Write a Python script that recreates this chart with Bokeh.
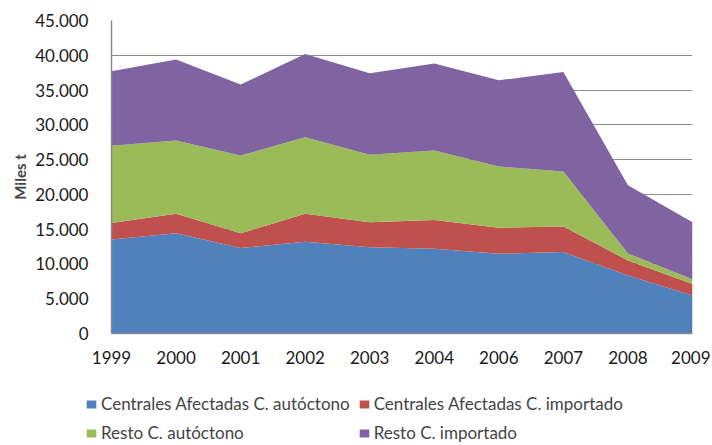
from bokeh.plotting import figure
from bokeh.models import Range1d, FixedTicker, Legend, LegendItem, ColumnDataSource
from bokeh.embed import file_html
from bokeh.resources import INLINE

years = ["1999", "2000", "2001", "2002", "2003", "2004", "2006", "2007", "2008", "2009"]
centrales_autoctono = [13500, 14400, 12300, 13200, 12400, 12200, 11450, 11700, 8350, 5450]
centrales_importado = [2400, 2800, 2100, 4000, 3600, 4100, 3750, 3700, 2150, 1650]
resto_autoctono = [11100, 10550, 11200, 11000, 9700, 10000, 8800, 7900, 1000, 700]
resto_importado = [10700, 11650, 10200, 12000, 11700, 12500, 12400, 14300, 9800, 8200]

names = ["Centrales Afectadas C. autóctono", "Centrales Afectadas C. importado",
         "Resto C. autóctono", "Resto C. importado"]
colors = ["#4F81BD", "#C0504D", "#9BBB59", "#8064A2"]
y_ticks = list(range(0, 45001, 5000))

FONT = "Lato"
FS = "17px"

x = list(range(len(years)))
source = ColumnDataSource(dict(x=x, a=centrales_autoctono, b=centrales_importado,
                               c=resto_autoctono, d=resto_importado))

p = figure(width=710, height=378, output_backend="svg", toolbar_location=None,
           x_range=Range1d(0, len(years) - 1), y_range=Range1d(0, 45000),
           min_border_left=111, min_border_right=18, min_border_top=20, min_border_bottom=45)
p.outline_line_color = None
p.background_fill_color = "white"

renderers = p.varea_stack(stackers=["a", "b", "c", "d"], x="x", color=colors, source=source)

p.xgrid.grid_line_color = None
p.ygrid.grid_line_color = "#8C8C8C"
p.ygrid.grid_line_width = 1
p.ygrid.ticker = FixedTicker(ticks=y_ticks)

p.xaxis.ticker = FixedTicker(ticks=x)
p.xaxis.major_label_overrides = {i: y for i, y in enumerate(years)}
p.yaxis.ticker = FixedTicker(ticks=y_ticks)
p.yaxis.major_label_overrides = {v: f"{v:,}".replace(",", ".") for v in y_ticks}

for ax in (p.xaxis[0], p.yaxis[0]):
    ax.axis_line_color = "#8C8C8C"
    ax.axis_line_width = 1.5
    ax.major_tick_line_color = None
    ax.minor_tick_line_color = None
    ax.major_label_text_font = FONT
    ax.major_label_text_font_size = FS
    ax.major_label_text_color = "#1A1A1A"

p.yaxis.major_label_standoff = 17
p.xaxis.major_label_standoff = 11
p.yaxis.axis_label = "Miles t"
p.yaxis.axis_label_text_font = FONT
p.yaxis.axis_label_text_font_style = "bold"
p.yaxis.axis_label_text_font_size = "15px"
p.yaxis.axis_label_standoff = 3

# Legend in a separate strip below the chart (separate root, no frame alignment)
lg = figure(width=710, height=65, output_backend="svg", toolbar_location=None,
            x_axis_location=None, y_axis_location=None,
            x_range=Range1d(0, 1), y_range=Range1d(0, 1),
            min_border_left=0, min_border_right=0, min_border_top=0, min_border_bottom=0)
lg.grid.visible = False
lg.outline_line_color = None
dummy = [lg.varea(x=[5, 6], y1=[5, 5], y2=[6, 6], color=c) for c in colors]

items = [LegendItem(label=n, renderers=[r]) for n, r in zip(names, dummy)]
legend = Legend(items=items, location=(85, 0), orientation="horizontal", ncols=2,
                label_text_font=FONT, label_text_font_size=FS,
                glyph_width=12, glyph_height=10, label_height=19,
                label_standoff=4, spacing=8, padding=0, margin=0,
                border_line_color=None, background_fill_alpha=0)
lg.add_layout(legend, "center")

open("out.html", "w").write(file_html([p, lg], INLINE))
